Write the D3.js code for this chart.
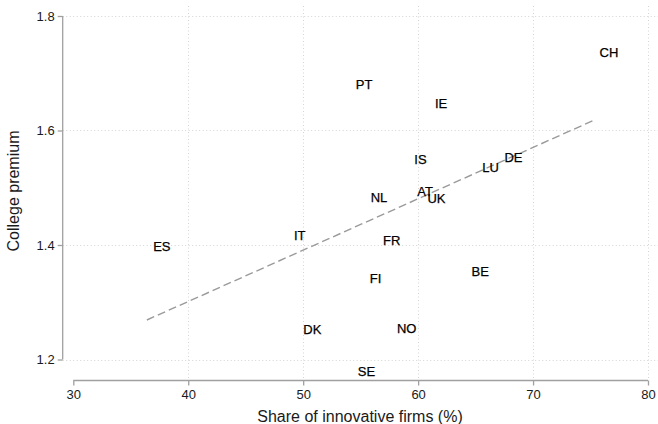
<!DOCTYPE html>
<html>
<head>
<meta charset="utf-8">
<script src="https://cdn.jsdelivr.net/npm/d3@7"></script>
<style>
  body { margin: 0; background: #fff; }
  svg { display: block; font-family: "Liberation Sans", Arial, Helvetica, sans-serif; }
</style>
</head>
<body>
<svg id="chart" width="658" height="424"></svg>
<script>
// Country codes with share of innovative firms (%) and college premium
const countries = ["CH", "PT", "IE", "IS", "LU", "DE", "AT", "UK", "NL", "ES", "IT", "FR", "FI", "BE", "DK", "NO", "SE"];
const innovShare = [76.6, 55.3, 62.0, 60.2, 66.3, 68.3, 60.6, 61.6, 56.6, 37.7, 49.7, 57.7, 56.3, 65.4, 50.8, 59.0, 55.5];
const premium = [1.736, 1.681, 1.648, 1.550, 1.535, 1.553, 1.494, 1.482, 1.483, 1.397, 1.417, 1.409, 1.342, 1.354, 1.252, 1.255, 1.179];

// Fitted line endpoints
const fitX = [36.4, 75.3];
const fitY = [1.269, 1.618];

const xTicks = [30, 40, 50, 60, 70, 80];
const yTicks = [1.2, 1.4, 1.6, 1.8];

const W = 658, H = 424;
const svg = d3.select("#chart");

const x = d3.scaleLinear().domain([30, 80]).range([73.3, 648]);
const y = d3.scaleLinear().domain([1.2, 1.8]).range([359.5, 16]);

const axisX = 62.7, axisY = 380.5;
const plotTop = 6, plotRight = 658;

// Grid
const grid = svg.append("g")
  .attr("stroke", "#d4d4d4")
  .attr("stroke-width", 1)
  .attr("stroke-dasharray", "1,2.5");

grid.selectAll("line.gy")
  .data(yTicks)
  .join("line")
  .attr("x1", axisX)
  .attr("x2", plotRight)
  .attr("y1", (d) => Math.round(y(d)) + 0.5)
  .attr("y2", (d) => Math.round(y(d)) + 0.5);

grid.selectAll("line.gx")
  .data(xTicks.filter((t) => t > 30))
  .join("line")
  .attr("y1", plotTop)
  .attr("y2", axisY)
  .attr("x1", (d) => Math.round(x(d)) + 0.5)
  .attr("x2", (d) => Math.round(x(d)) + 0.5);

// Axes
const yAxis = d3.axisLeft(y).tickValues(yTicks).tickSize(5).tickPadding(3)
  .tickFormat(d3.format(".1f"));
const xAxis = d3.axisBottom(x).tickValues(xTicks).tickSize(5).tickPadding(4)
  .tickFormat(d3.format("d"));

const gy = svg.append("g").attr("transform", `translate(${axisX},0)`).call(yAxis);
const gx = svg.append("g").attr("transform", `translate(0,${axisY})`).call(xAxis);

[gx, gy].forEach((g) => {
  g.select(".domain").attr("stroke", "#a0a0a0").attr("stroke-width", 1.3);
  g.selectAll(".tick line").attr("stroke", "#a0a0a0").attr("stroke-width", 1.3);
  g.selectAll(".tick text")
    .attr("fill", "#1a1a1a")
    .attr("font-size", 13)
    .attr("font-family", "Liberation Sans, Arial, sans-serif");
});
gy.select(".domain").attr("d", `M-0,${y(1.2)}V${y(1.8)}`);
gx.select(".domain").attr("d", `M${x(30)},0H${x(80)}`);

// Axis titles
svg.append("text")
  .attr("x", 360)
  .attr("y", 422)
  .attr("text-anchor", "middle")
  .attr("font-size", 16)
  .attr("fill", "#1a1a1a")
  .text("Share of innovative firms (%)");

svg.append("text")
  .attr("transform", "translate(19,191) rotate(-90)")
  .attr("text-anchor", "middle")
  .attr("font-size", 16)
  .attr("fill", "#1a1a1a")
  .text("College premium");

// Fitted line
svg.append("line")
  .attr("x1", x(fitX[0]))
  .attr("y1", y(fitY[0]))
  .attr("x2", x(fitX[1]))
  .attr("y2", y(fitY[1]))
  .attr("stroke", "#9a9a9a")
  .attr("stroke-width", 1.4)
  .attr("stroke-dasharray", "8,4");

// Country labels as markers
svg.append("g")
  .selectAll("text")
  .data(countries)
  .join("text")
  .attr("x", (d, i) => x(innovShare[i]))
  .attr("y", (d, i) => y(premium[i]))
  .attr("dy", "0.36em")
  .attr("text-anchor", "middle")
  .attr("font-size", 13)
  .attr("fill", "#000")
  .attr("stroke", "#000")
  .attr("stroke-width", 0.25)
  .text((d) => d);
</script>
</body>
</html>
